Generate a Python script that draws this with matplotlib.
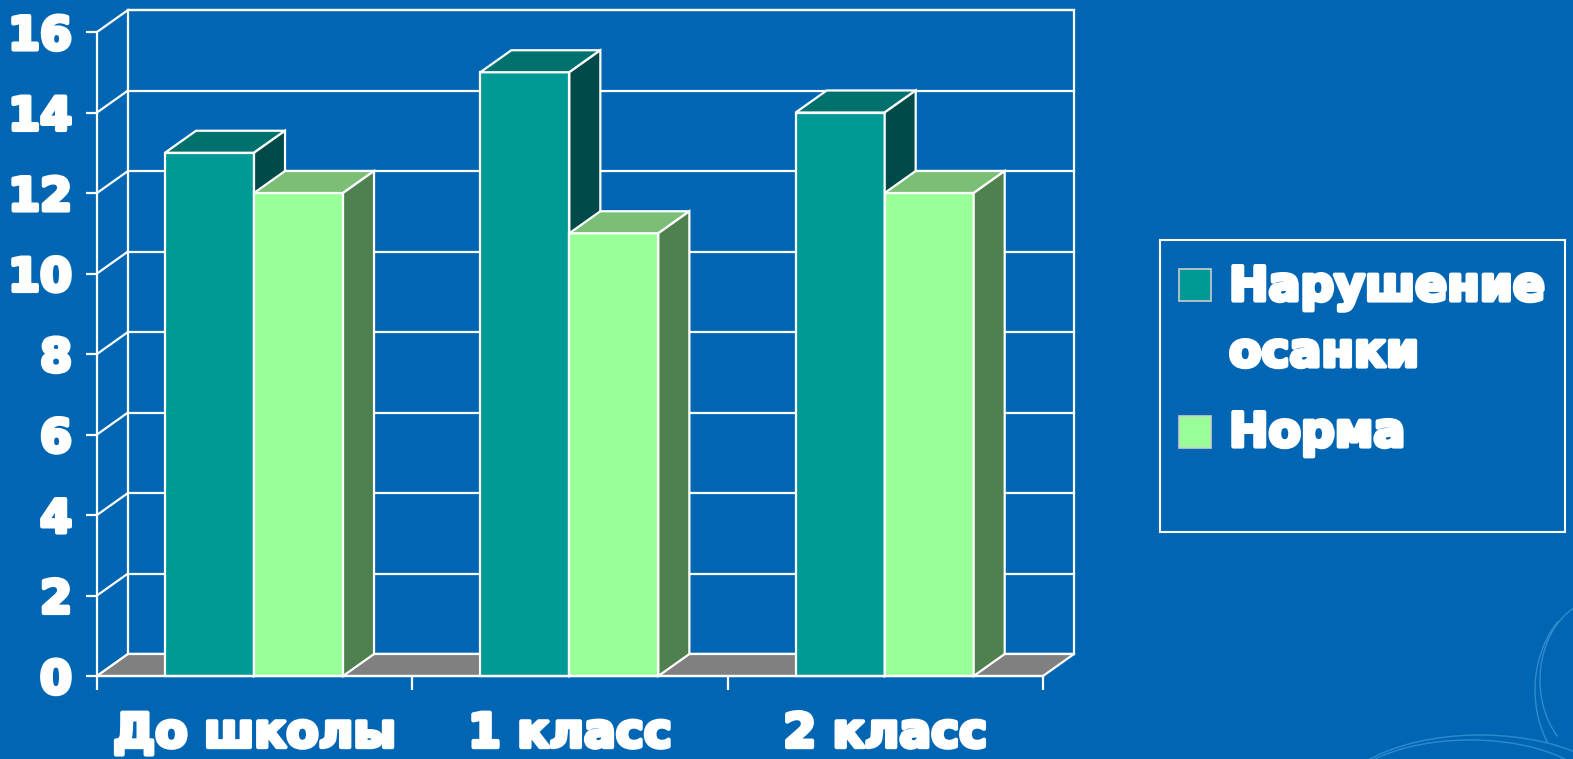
import matplotlib
matplotlib.use('Agg')
import matplotlib.pyplot as plt
import matplotlib.patheffects as pe
from matplotlib.patches import Polygon, Rectangle, Arc

categories = ['До школы', '1 класс', '2 класс']
series_names = ['Нарушение\nосанки', 'Норма']
posture = [13, 15, 14]
norm = [12, 11, 12]
y_ticks = [0, 2, 4, 6, 8, 10, 12, 14, 16]

W, H = 1573, 759
bg = '#0066B3'
# front, top, side shades for each series
shades = [('#009A96', '#00716D', '#004B49'),
          ('#99FF99', '#7BBF76', '#4F814F')]
heavy = [pe.withStroke(linewidth=3, foreground='white')]

fig = plt.figure(figsize=(W / 100, H / 100), dpi=100)
fig.patch.set_facecolor(bg)
ax = fig.add_axes([97 / W, (H - 676) / H, (1043 - 97) / W, (676 - 32) / H])
ax.set_facecolor('none')
ax.set_xlim(0, 3)
ax.set_ylim(0, 16)

# depth of the 3d box in data units
ddx = 31 / 315.3
ddy = 22 / 40.25
lw = 1.6

# back wall + gridlines
ax.add_patch(Polygon([(ddx, ddy), (3 + ddx, ddy), (3 + ddx, 16 + ddy), (ddx, 16 + ddy)],
                     closed=True, fill=False, ec='white', lw=lw, clip_on=False, zorder=1))
for y in y_ticks:
    ax.plot([ddx, 3 + ddx], [y + ddy, y + ddy], color='white', lw=lw, clip_on=False, zorder=1)
    ax.plot([0, ddx], [y, y + ddy], color='white', lw=lw, clip_on=False, zorder=1)

# floor
ax.add_patch(Polygon([(0, 0), (3, 0), (3 + ddx, ddy), (ddx, ddy)], closed=True,
                     fc='#808080', ec='white', lw=lw, clip_on=False, zorder=2))

# bars
off = 68 / 315.3
bw = 89 / 315.3
for i in range(len(categories)):
    for j, vals in enumerate([posture, norm]):
        front, top, side = shades[j]
        x0 = i + off + j * bw
        v = vals[i]
        ax.add_patch(Rectangle((x0, 0), bw, v, fc=front, ec='white', lw=lw, clip_on=False, zorder=3))
        ax.add_patch(Polygon([(x0, v), (x0 + bw, v), (x0 + bw + ddx, v + ddy), (x0 + ddx, v + ddy)],
                             closed=True, fc=top, ec='white', lw=lw, clip_on=False, zorder=3))
        ax.add_patch(Polygon([(x0 + bw, 0), (x0 + bw + ddx, ddy), (x0 + bw + ddx, v + ddy), (x0 + bw, v)],
                             closed=True, fc=side, ec='white', lw=lw, clip_on=False, zorder=3))

# axes
for s in ['top', 'right']:
    ax.spines[s].set_visible(False)
for s in ['left', 'bottom']:
    ax.spines[s].set_color('white')
    ax.spines[s].set_linewidth(lw)
    ax.spines[s].set_zorder(4)
ax.set_yticks(y_ticks)
ax.set_yticklabels([str(t) for t in y_ticks])
ax.tick_params(axis='y', colors='white', length=8, width=lw, pad=10)
ax.set_xticks([0, 1, 2, 3])
ax.set_xticklabels([])
ax.tick_params(axis='x', which='major', colors='white', length=10, width=lw)
ax.set_xticks([0.5, 1.5, 2.5], minor=True)
ax.set_xticklabels(categories, minor=True)
ax.tick_params(axis='x', which='minor', length=0, pad=26, colors='white')
for lab in ax.get_yticklabels():
    lab.set_fontfamily('DejaVu Sans')
    lab.set_fontweight('bold')
    lab.set_fontsize(33)
    lab.set_verticalalignment('center_baseline')
    lab.set_path_effects(heavy)
for lab in ax.get_xticklabels(minor=True):
    lab.set_fontfamily('DejaVu Sans')
    lab.set_fontweight('bold')
    lab.set_fontsize(34)
    lab.set_path_effects(heavy)

# legend, drawn by hand
def fx(px):
    return px / W

def fy(py):
    return 1 - py / H

fig.patches.append(Rectangle((fx(1160), fy(532)), fx(1565) - fx(1160), fy(240) - fy(532),
                             transform=fig.transFigure, fill=False, ec='white', lw=1.5))
leg_y = [285, 432]
leg_text_y = [321, 434]
for j, name in enumerate(series_names):
    fig.patches.append(Rectangle((fx(1179), fy(leg_y[j] + 16)), fx(32), 32 / H,
                                 transform=fig.transFigure, fc=shades[j][0], ec='#CCCCCC', lw=1.2))
    fig.text(fx(1229), fy(leg_text_y[j]), name, color='white', fontsize=34, fontweight='bold',
             family='DejaVu Sans', ha='left', va='center', linespacing=1.6, path_effects=heavy)

# faint decorative swirls in the corner
for cx, cy, w, h, t1, t2 in [(1470, 800, 260, 120, 30, 150), (1480, 810, 300, 150, 40, 140),
                             (1600, 680, 120, 160, 100, 250), (1610, 690, 150, 190, 110, 240)]:
    fig.patches.append(Arc((fx(cx), fy(cy)), w / W, h / H, theta1=t1, theta2=t2,
                           transform=fig.transFigure, color='#4FA3E0', lw=1.0, alpha=0.6))

fig.savefig('out.png', dpi=100, facecolor=bg)
